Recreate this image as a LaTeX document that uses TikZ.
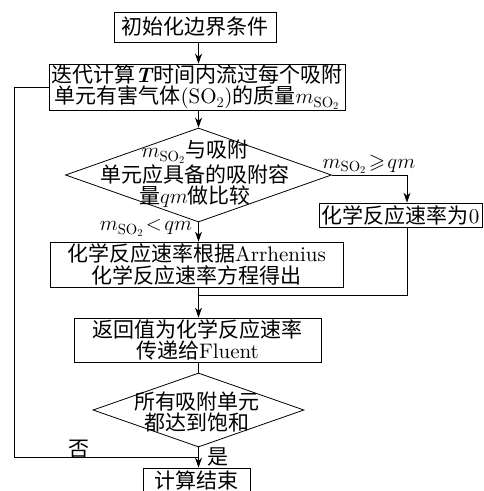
\RequirePackage{fix-cm}
\documentclass[tikz,border=0pt]{standalone}
\usepackage{amssymb}
\usepackage{fontspec}
\setmainfont{lmroman10-regular.otf}[BoldFont=lmroman10-bold.otf, ItalicFont=lmroman10-italic.otf, BoldItalicFont=lmroman10-bolditalic.otf]
\newfontfamily\cjkfont{Noto Sans CJK SC}
\newcommand{\zhs}[1]{{\cjkfont #1}}
\usetikzlibrary{shapes.geometric,arrows.meta}
\begin{document}
\begin{tikzpicture}[x=1pt,y=-1pt, line width=0.8pt,
  every node/.style={font=\fontsize{21}{21.5}\selectfont, inner sep=0pt},
  box/.style={draw, rectangle, align=center},
  dia/.style={draw, diamond, inner sep=0pt},
  arr/.style={-{Stealth[length=10pt,width=7pt]}}]
\clip (0,0) rectangle (483,491);
\fill[white] (0,0) rectangle (483,491);
\coordinate (ax) at (198.5,0);
\coordinate (rc) at (407,0);
\coordinate (jy) at (0,295);
\coordinate (lx) at (14,0);
\coordinate (ly) at (0,457);
% nodes
\node[box, minimum width=162pt, minimum height=30pt] (b1) at (195,27) {\zhs{初始化边界条件}};
\node[box, minimum width=296pt, minimum height=46pt] (b2) at (197,87)
  {\zhs{迭代计算}\textbf{\textit{T}}\zhs{时间内流过每个吸附}\\\zhs{单元有害气体}(SO$_2$)\zhs{的质量}$m_{\mathrm{SO}_2}$};
\node[dia, minimum width=266pt, minimum height=94pt] (d1) at (198.5,175) {};
\node[align=center] (d1t) at (195,174)
  {$m_{\mathrm{SO}_2}$\zhs{与吸附}\\\zhs{单元应具备的吸附容}\\\zhs{量}$qm$\zhs{做比较}};
\node[box, minimum width=163pt, minimum height=24pt] (b0) at (400.5,215) {\zhs{化学反应速率为}0};
\node[box, minimum width=293pt, minimum height=45pt] (b3) at (196.5,264.5)
  {\zhs{化学反应速率根据}Arrhenius\\\zhs{化学反应速率方程得出}};
\node[box, minimum width=247pt, minimum height=44pt] (b4) at (197.5,340)
  {\zhs{返回值为化学反应速率}\\\zhs{传递给}Fluent};
\node[dia, minimum width=211pt, minimum height=74pt] (d2) at (198.5,410) {};
\node[align=center] (d2t) at (197,412) {\zhs{所有吸附单元}\\\zhs{都达到饱和}};
\node[box, minimum width=107pt, minimum height=24pt] (e) at (196.5,480) {\zhs{计算结束}};
% labels
\node (l1) at (146,228) {$m_{\mathrm{SO}_2}\!<\!qm$};
\node[anchor=south] (l2) at (369,174) {$m_{\mathrm{SO}_2}\!\geqslant\! qm$};
\node (no) at (79,449) {\zhs{否}};
\node (yes) at (218,457) {\zhs{是}};
% connectors
\draw[arr] (b1.south -| ax) -- (b2.north -| ax);
\draw[arr] (b2.south -| ax) -- (d1.north);
\draw[arr] (d1.south) -- (b3.north -| ax);
\draw[arr] (d1.east) -- (d1.east -| rc) -- (b0.north -| rc);
\draw (b0.south -| rc) -- (rc |- jy) -- (ax |- jy);
\draw[arr] (b3.south -| ax) -- (b4.north -| ax);
\draw (b4.south -| ax) -- (d2.north);
\draw[arr] (d2.south) -- (e.north -| ax);
\draw (b2.west) -- (b2.west -| lx) -- (lx |- ly) -- (ax |- ly);
\end{tikzpicture}
\end{document}
